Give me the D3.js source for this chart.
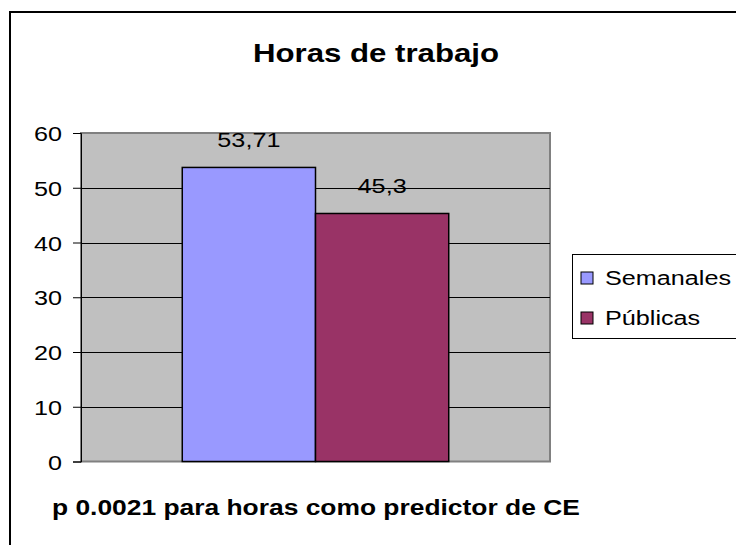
<!DOCTYPE html>
<html>
<head>
<meta charset="utf-8">
<script src="https://cdn.jsdelivr.net/npm/d3@7"></script>
<style>
  body { margin: 0; background: #fff; }
  svg { display: block; font-family: "Liberation Sans", Arial, sans-serif; }
</style>
</head>
<body>
<svg id="chart" width="736" height="545"></svg>
<script>
const categories = ["Horas de trabajo"]
const series = ["Semanales", "Públicas"]
const values = [53.71, 45.3]
const valueLabels = ["53,71", "45,3"]
const tickValues = [0, 10, 20, 30, 40, 50, 60]
const colors = ["#9999FF", "#993366"]

const title = "Horas de trabajo"
const footnote = "p 0.0021 para horas como predictor de CE"

// the original picture is stretched sideways, so text gets a small x-scale
const stretch = 1.2

const plot = { left: 81, right: 550, top: 133, bottom: 461.5 }

const svg = d3.select("#chart")

// outer frame (right and bottom edges fall off the picture)
svg.append("rect")
    .attr("x", 10).attr("y", 12)
    .attr("width", 800).attr("height", 600)
    .attr("fill", "none")
    .attr("stroke", "#000")
    .attr("stroke-width", 2)

const y = d3.scaleLinear()
    .domain([0, 60])
    .range([plot.bottom, plot.top])

const x = d3.scaleBand()
    .domain(categories)
    .range([plot.left, plot.right])
    .paddingOuter(0.38)

const xs = d3.scaleBand()
    .domain(series)
    .range([0, x.bandwidth()])

// plot area
svg.append("rect")
    .attr("x", plot.left).attr("y", plot.top)
    .attr("width", plot.right - plot.left)
    .attr("height", plot.bottom - plot.top)
    .attr("fill", "#C0C0C0")
    .attr("stroke", "#808080")
    .attr("stroke-width", 2)

// gridlines
svg.append("g")
    .selectAll("line")
    .data(tickValues.filter(d => d > 0 && d < 60))
    .enter()
    .append("line")
    .attr("x1", plot.left).attr("x2", plot.right)
    .attr("y1", d => Math.round(y(d)) + 0.5)
    .attr("y2", d => Math.round(y(d)) + 0.5)
    .attr("stroke", "#000")
    .attr("stroke-width", 1)

// bars
const bars = series.map((s, i) => ({ cat: categories[0], s: s, v: values[i], label: valueLabels[i], color: colors[i] }))

svg.append("g")
    .selectAll("rect")
    .data(bars)
    .enter()
    .append("rect")
    .attr("x", d => x(d.cat) + xs(d.s))
    .attr("y", d => y(d.v))
    .attr("width", xs.bandwidth())
    .attr("height", d => y(0) - y(d.v))
    .attr("fill", d => d.color)
    .attr("stroke", "#000")
    .attr("stroke-width", 1.5)

// value labels
svg.append("g")
    .selectAll("text")
    .data(bars)
    .enter()
    .append("text")
    .attr("transform", d => `translate(${x(d.cat) + xs(d.s) + xs.bandwidth() / 2},${y(d.v) - 20}) scale(${stretch},1)`)
    .attr("text-anchor", "middle")
    .attr("font-size", 21)
    .attr("fill", "#000")
    .text(d => d.label)

// y axis
const yAxis = d3.axisLeft(y)
    .tickValues(tickValues)
    .tickSize(8)
    .tickPadding(7.8)
    .tickFormat(d3.format("d"))

const gy = svg.append("g")
    .attr("transform", `translate(${plot.left},0)`)
    .call(yAxis)

gy.select(".domain").attr("stroke", "#000")
gy.selectAll(".tick line").attr("stroke", "#000")
gy.selectAll(".tick text")
    .attr("font-size", 21)
    .attr("font-family", "Liberation Sans, Arial, sans-serif")
    .attr("fill", "#000")
    .attr("dy", "0.36em")
    .attr("transform", `scale(${stretch},1)`)

// title
svg.append("text")
    .attr("transform", `translate(376,62) scale(${stretch},1)`)
    .attr("text-anchor", "middle")
    .attr("font-size", 26)
    .attr("font-weight", "bold")
    .text(title)

// footnote
svg.append("text")
    .attr("transform", `translate(52,515) scale(${stretch},1)`)
    .attr("font-size", 22)
    .attr("font-weight", "bold")
    .text(footnote)

// legend (runs off the right edge like the original)
const legend = svg.append("g")
    .attr("transform", "translate(572,254)")

legend.append("rect")
    .attr("x", 0.5).attr("y", 0.5)
    .attr("width", 200).attr("height", 84)
    .attr("fill", "#fff")
    .attr("stroke", "#000")
    .attr("stroke-width", 1)

const items = legend.selectAll(".item")
    .data(bars)
    .enter()
    .append("g")
    .attr("class", "item")
    .attr("transform", (d, i) => `translate(0,${18 + i * 40})`)

items.append("rect")
    .attr("x", 9).attr("y", 0)
    .attr("width", 12).attr("height", 12)
    .attr("fill", d => d.color)
    .attr("stroke", "#000")
    .attr("stroke-width", 1)

items.append("text")
    .attr("transform", `translate(33,13) scale(${stretch},1)`)
    .attr("font-size", 21)
    .text(d => d.s)
</script>
</body>
</html>
